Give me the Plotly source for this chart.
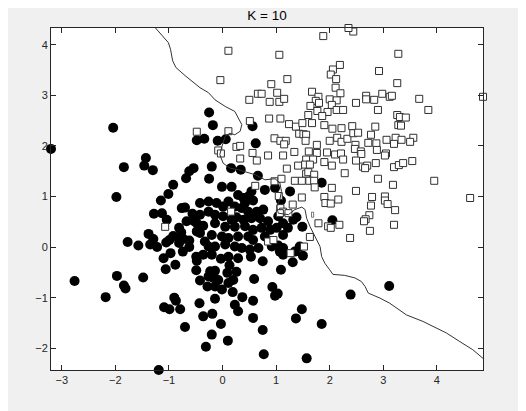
import plotly.graph_objects as go

# ── class A (filled circles) ────────────────────────────────────────────────
circ_x = [
    -2.04, -0.48, -0.25, -0.18, 0.56, -0.34, -0.09, 0.06, 0.62, -3.20,
    -1.43, -1.84, -1.46, -1.30, -0.54, -0.62, -0.68, -0.92, -1.01, -1.15,
    -1.98, -0.76, -0.70, -1.28, -1.13, -1.04, -0.56, -0.67, -0.53, -0.81,
    -0.77, -0.48, -1.38, -1.29, -0.92, -0.82, -0.99, -0.73, -0.62, -1.77,
    -1.57, -1.35, -1.22, -1.05, -0.81, -0.74, -0.62, -0.97, -1.10, -0.49,
    -1.06, -0.88, -0.49, -2.76, -1.97, -1.84, -1.81, -1.48, -2.18, -0.90,
    -0.87, -1.09, -0.99, -0.79, -0.70, -1.19, -0.48, -0.36, -0.03, 0.29,
    0.53, 0.75, 1.31, 1.50, -0.23, -0.14, -0.26, -0.17, -0.08, -0.28,
    -0.14, -0.01, -0.42, 0.13, 0.09, 0.26, 0.20, 0.11, 0.59, 1.09,
    0.19, 0.37, 0.57, 0.93, 0.98, 1.03, -0.14, -0.43, 0.23, 0.29,
    -0.19, -0.36, 0.57, -0.03, 1.48, 1.37, 1.85, 0.75, -0.20, 0.10,
    -0.31, 0.77, 1.57, 2.39, 3.11, -0.20, 0.16, 0.34, 0.66, -0.25,
    -0.01, 0.17, 0.29, 0.39, 0.48, 0.54, 0.79, 0.98, 1.26, 1.09,
    1.85, 2.05, 0.57, -0.42, -0.26, -0.11, 0.01, 0.11, 0.23, 0.36,
    0.42, 0.48, 0.64, 0.76, -0.26, -0.14, -0.42, 0.01, 0.17, 0.26,
    0.39, 0.54, 0.70, 0.85, 1.04, 1.13, -0.48, -0.36, -0.14, 0.05,
    0.23, 0.42, 0.57, 0.73, 0.89, 1.01, 1.38, 1.49, -0.42, -0.20,
    -0.01, 0.11, 0.29, 0.48, 0.57, 0.79, 1.13, 1.22, 1.32, -0.33,
    -0.26, -0.14, 0.05, 0.23, 0.36, 0.51, 0.67, 0.92, 1.04, 1.13,
    1.35, 1.44, -0.20, 0.11, 1.07, 1.13,
]
circ_y = [
    2.36, 2.11, 2.66, 2.41, 2.39, 2.14, 2.10, 2.13, 2.05, 1.94,
    1.76, 1.58, 1.61, 1.52, 1.56, 1.50, 1.36, 1.23, 1.05, 0.92,
    0.99, 0.77, 0.78, 0.66, 0.67, 0.54, 0.66, 0.51, 0.51, 0.38,
    0.29, 0.31, 0.26, 0.16, 0.22, 0.18, 0.14, 0.16, 0.13, 0.10,
    0.03, 0.05, 0.00, 0.09, 0.08, -0.09, 0.00, -0.12, -0.22, -0.19,
    -0.44, -0.35, -0.46, -0.67, -0.57, -0.76, -0.82, -0.60, -0.99, -1.00,
    -1.06, -1.19, -1.23, -1.23, -1.58, -2.43, -0.27, -0.15, -0.23, -0.22,
    -0.19, -0.28, -0.30, -0.17, -0.48, -0.47, -0.58, -0.61, -0.65, -0.78,
    -0.78, -0.84, -0.66, -0.36, -0.51, -0.49, -0.65, -0.71, -0.63, -0.45,
    -0.89, -0.99, -1.06, -0.79, -0.96, -0.92, -1.02, -1.11, -1.14, -1.27,
    -1.32, -1.37, -1.40, -1.52, -1.23, -1.41, -1.52, -1.64, -1.73, -1.85,
    -1.97, -2.12, -2.20, -0.94, -0.77, 1.59, 1.56, 1.53, 1.41, 1.35,
    1.19, 1.19, 1.03, 0.97, 1.00, 1.10, 1.13, 1.17, 1.10, 0.92,
    1.27, 0.53, 0.92, 0.87, 0.90, 0.87, 0.80, 0.90, 0.80, 0.77,
    0.87, 0.70, 0.70, 0.74, 0.70, 0.64, 0.64, 0.61, 0.54, 0.59,
    0.54, 0.57, 0.57, 0.51, 0.61, 0.47, 0.47, 0.42, 0.47, 0.40,
    0.40, 0.41, 0.34, 0.38, 0.34, 0.38, 0.59, 0.40, 0.28, 0.24,
    0.21, 0.18, 0.21, 0.21, 0.14, 0.21, 0.24, 0.38, 0.54, 0.11,
    0.01, 0.01, 0.05, 0.01, -0.02, -0.05, -0.02, 0.01, 0.03, -0.02,
    -0.09, 0.01, -0.15, -0.19, -0.09, -0.15,
]

# ── class B (open squares) ──────────────────────────────────────────────────
sq_x = [
    -0.48, 1.88, 0.11, 1.06, 2.19, 2.06, 2.02, -0.04, 1.21, 2.12,
    0.91, 2.11, 1.67, 0.66, 0.73, 1.02, 2.20, 1.79, 0.50, 0.88,
    1.06, 1.15, 1.74, 1.80, 2.00, 2.13, 1.64, 2.04, 1.77, 1.96,
    2.13, 2.25, 1.60, 1.86, 0.87, 1.08, 0.51, 1.24, 1.37, 1.49,
    1.67, 1.90, 2.05, 2.22, 0.11, 1.43, 1.51, 1.56, 0.97, 1.08,
    1.18, 1.55, 2.00, 2.14, 2.22, 1.76, 1.15, 0.26, 0.33,
    2.44, 2.35, 3.28, 2.92, 3.26, 2.68, 2.68, 2.83, 2.98, 3.12,
    3.16, 3.67, 2.49, 2.90, 3.84, 4.86, 3.26, 3.31, 3.42, 2.42,
    2.85, 3.28, 3.33, 2.33, 2.44, 2.53, 2.77, 2.48, 2.72, 2.87,
    3.06, 3.23, 3.34, 3.20, 3.56, 3.50,
    -1.07,
    -0.08, -0.03, 0.56, 0.33, 0.64, 0.85, 1.13, 1.34, 1.61, 1.76,
    1.95, 2.10, 2.21, 1.90, 2.04, 1.56, 1.69, 1.54, 1.63, 1.41,
    1.20, 1.56, 1.60, 1.71, 1.35, 1.48, 1.62, 1.71, 1.72, 2.04,
    0.97, 1.10, 0.61, 1.05, 1.48, 1.90, 1.92, 2.02, 2.16, 0.16,
    1.08, 1.31, 1.13, 1.07, 1.23, 1.79, 1.97, 2.02, 2.18, 0.85,
    0.95, 1.63, 1.52, 1.27,
    2.47, 2.58, 2.59, 2.88, 3.05, 3.03, 2.25, 2.49, 2.62, 2.70,
    2.66, 2.86, 3.20, 3.29, 3.37, 3.54, 2.28, 2.90, 3.18, 3.95,
    2.49, 2.79, 3.03, 3.03, 3.08, 2.77, 3.22, 4.62, 2.74, 2.67,
    2.64, 3.20, 2.75, 2.38,
]
sq_y = [
    2.28, 4.17, 3.88, 3.80, 3.60, 3.51, 3.41, 3.30, 3.32, 3.32,
    3.22, 3.15, 3.07, 3.03, 3.03, 3.05, 3.04, 2.97, 2.91, 2.87,
    2.87, 2.93, 2.89, 2.85, 2.92, 2.90, 2.79, 2.81, 2.69, 2.67,
    2.71, 2.71, 2.61, 2.59, 2.54, 2.54, 2.49, 2.43, 2.38, 2.45,
    2.45, 2.41, 2.34, 2.35, 2.29, 2.24, 2.23, 2.22, 2.15, 2.10,
    2.10, 2.10, 2.10, 2.16, 2.08, 2.02, 2.03, 1.98, 2.00,
    4.26, 4.33, 3.82, 3.48, 3.24, 2.99, 2.92, 2.91, 3.03, 2.97,
    2.99, 2.93, 2.85, 2.71, 2.71, 2.97, 2.61, 2.57, 2.56, 2.39,
    2.38, 2.41, 2.40, 2.14, 2.25, 2.26, 2.22, 2.02, 2.06, 2.05,
    2.12, 2.16, 2.12, 2.04, 2.16, 2.08,
    0.40,
    1.91, 1.85, 1.86, 1.75, 1.71, 1.81, 1.81, 1.88, 1.89, 1.86,
    1.87, 1.83, 1.85, 1.68, 1.61, 1.73, 1.73, 1.63, 1.63, 1.61,
    1.55, 1.45, 1.48, 1.43, 1.31, 1.31, 1.31, 1.31, 1.18, 1.17,
    1.30, 1.35, 1.21, 1.01, 0.98, 0.99, 0.87, 0.86, 0.94, 0.70,
    0.77, 0.84, 0.70, 0.67, 0.67, 0.47, 0.41, 0.38, 0.44, 0.11,
    0.14, 0.20, 0.01, -0.12,
    1.94, 1.89, 1.84, 1.92, 1.85, 1.81, 1.73, 1.71, 1.59, 1.61,
    1.56, 1.66, 1.58, 1.62, 1.66, 1.70, 1.46, 1.35, 1.23, 1.31,
    1.11, 0.99, 1.00, 0.92, 0.85, 0.82, 0.73, 0.97, 0.63, 0.55,
    0.51, 0.44, 0.32, 0.18,
]

# ── K = 10 decision boundary ────────────────────────────────────────────────
bnd_x = [
    -1.25, -1.01, -0.97, -0.93, -0.87, -0.70, -0.42, -0.26, -0.14, 0.05,
    0.23, 0.29, 0.36, 0.33, 0.23, 0.14, 0.05, -0.01, -0.05, 0.01,
    0.14, 0.29, 0.61, 0.79, 0.98, 1.07, 1.10, 1.07, 1.01, 1.04,
    1.23, 1.35, 1.48, 1.54, 1.57, 1.63, 1.72, 1.82, 1.85, 1.91,
    2.00, 2.06, 2.28, 2.47, 2.59, 2.66, 2.72, 2.94, 3.12, 3.25,
    3.43, 3.74, 3.93, 4.18, 4.43, 4.67, 4.86,
]
bnd_y = [
    4.33, 4.04, 3.91, 3.68, 3.55, 3.39, 3.15, 3.05, 2.91, 2.78,
    2.68, 2.55, 2.42, 2.29, 2.22, 2.25, 2.19, 1.99, 1.83, 1.66,
    1.56, 1.53, 1.43, 1.33, 1.35, 1.27, 1.10, 0.94, 0.80, 0.67,
    0.64, 0.74, 0.79, 0.74, 0.57, 0.41, 0.21, 0.01, -0.19, -0.32,
    -0.45, -0.54, -0.56, -0.61, -0.68, -0.78, -0.91, -1.01, -1.11, -1.21,
    -1.34, -1.47, -1.57, -1.70, -1.87, -2.03, -2.20,
]
# tiny closed contour island
isl_x = [1.66, 1.70, 1.70, 1.66, 1.66]
isl_y = [0.59, 0.59, 0.69, 0.69, 0.59]

AX_COLOR = "#262626"
FONT = "Liberation Sans, Arial"

fig = go.Figure()

fig.add_trace(go.Scatter(
    x=circ_x, y=circ_y, mode="markers", cliponaxis=False,
    marker=dict(symbol="circle", size=10, color="black", line=dict(width=0)),
    showlegend=False, hoverinfo="skip",
))
fig.add_trace(go.Scatter(
    x=sq_x, y=sq_y, mode="markers", cliponaxis=False,
    marker=dict(symbol="square", size=7, color="white",
                line=dict(width=1, color="#303030")),
    showlegend=False, hoverinfo="skip",
))
fig.add_trace(go.Scatter(
    x=bnd_x, y=bnd_y, mode="lines",
    line=dict(color="#333333", width=1),
    showlegend=False, hoverinfo="skip",
))
fig.add_trace(go.Scatter(
    x=isl_x, y=isl_y, mode="lines",
    line=dict(color="#555555", width=0.8),
    showlegend=False, hoverinfo="skip",
))

axis = dict(
    showgrid=False, zeroline=False,
    showline=True, linecolor=AX_COLOR, linewidth=1, mirror="ticks",
    ticks="inside", ticklen=5, tickwidth=1, tickcolor=AX_COLOR,
    tickfont=dict(family=FONT, size=11, color=AX_COLOR),
    dtick=1,
)
fig.update_xaxes(**axis, range=[-3.2, 4.86], tick0=-3)
fig.update_yaxes(**axis, range=[-2.43, 4.33], tick0=-2)

# page body has an 8px margin, so the figure is shrunk and shifted to fit
fig.update_layout(
    width=518, height=403,
    margin=dict(l=43, r=43, t=20, b=41),
    paper_bgcolor="#f0f0f0",
    plot_bgcolor="white",
    title=dict(
        text="K = 10",
        font=dict(family=FONT, size=13.5, color="black"),
        x=0.5, xref="paper", xanchor="center",
        y=1 - 7 / 403, yref="container", yanchor="middle",
    ),
)

fig.write_html("out.html")
